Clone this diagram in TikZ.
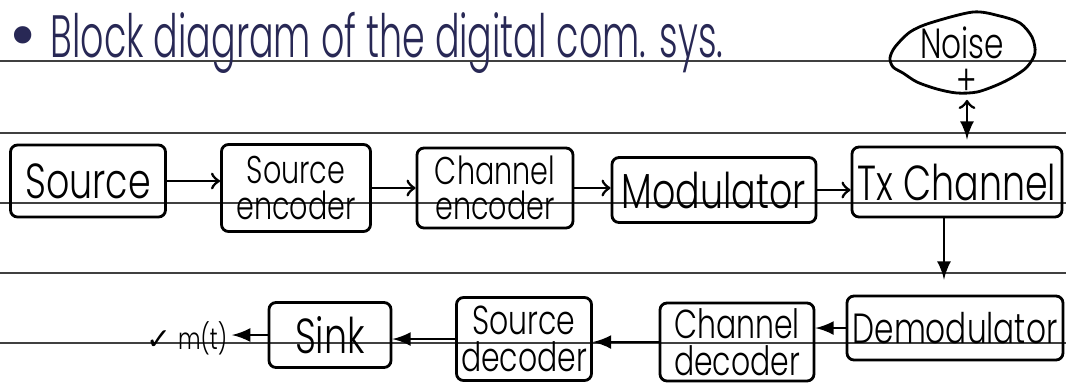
\documentclass[tikz,border=0pt]{standalone}
\usepackage{fontspec}
\setmainfont{Poppins Light}
\newfontfamily\hand[FakeStretch=0.74]{Poppins Light}
\newfontfamily\titlefont[FakeStretch=0.61]{Poppins Light}
\newfontfamily\symfont{DejaVu Sans}
\definecolor{ink}{RGB}{40,40,85}
\newcommand{\ruleline}[1]{\draw[rule] (0,#1) -- (1066,#1);}

\begin{document}
\begin{tikzpicture}[x=0.1mm,y=-0.1mm,>=latex,thick,
    rule/.style={thin,black!75},
    blk/.style={draw,rounded corners=2pt,inner sep=0pt,font=\hand\fontsize{14}{14}\selectfont},
    blk2/.style={blk,align=center,font=\hand\fontsize{11}{10}\selectfont}]
  \useasboundingbox (0,0) rectangle (1066,385);
  % ruled paper
  \ruleline{61}
  \ruleline{133}
  \ruleline{203}
  \ruleline{273}
  \ruleline{343}
  \node[anchor=base west,text=ink,inner sep=0pt,font=\titlefont\fontsize{17}{17}\selectfont] (title) at (4,57)
    {{\symfont\textbullet}\,Block diagram of the digital com. sys.};
  % noise
  \draw plot[smooth cycle] coordinates {(973,12) (930,23) (910,32) (895,47) (890,58) (893,67)
    (903,73) (917,82) (937,89) (957,93) (977,92) (997,85) (1013,77) (1027,67) (1035,53)
    (1032,37) (1020,23) (1000,16)};
  \node[font=\hand\fontsize{12}{12}\selectfont,inner sep=0pt] (noise) at (962,43) {Noise};
  \node[font=\hand\fontsize{12}{12}\selectfont,inner sep=0pt,text height=1.4ex,text depth=0pt] (plus) at (967,82) {+};
  % transmitter
  \node[blk,minimum width=15.5mm,minimum height=7.2mm] (src) at (88,181) {Source};
  \node[blk2,minimum width=14.9mm,minimum height=8.7mm] (senc) at (296,188) {Source\\encoder};
  \node[blk2,minimum width=15.6mm,minimum height=8.0mm] (cenc) at (495,188) {Channel\\encoder};
  \node[blk,minimum width=20.4mm,minimum height=6.5mm] (mod) at (714,190) {Modulator};
  \node[blk,minimum width=21.0mm,minimum height=7.0mm] (tx) at (957,182) {Tx Channel};
  % receiver
  \node[blk,font=\hand\fontsize{12}{12}\selectfont,minimum width=21.6mm,minimum height=6.4mm] (dm) at (955,328) {Demodulator};
  \node[blk2,font=\hand\fontsize{11.5}{10.5}\selectfont,minimum width=15.4mm,minimum height=7.8mm] (cdec) at (737,342) {Channel\\decoder};
  \node[blk2,font=\hand\fontsize{11.5}{10.5}\selectfont,minimum width=13.5mm,minimum height=8.3mm] (sdec) at (524,339) {Source\\decoder};
  \node[blk,minimum width=12.2mm,minimum height=6.5mm] (sink) at (330,335) {Sink};
  \node[font=\hand\fontsize{8.5}{8}\selectfont,inner sep=1pt] (mt) at (187,338) {{\symfont ✓} m(t)};
  % connections
  \draw[arrows=-to] (src.east) -- (src.east -| senc.west);
  \draw[arrows=-to] (senc.east) -- (senc.east -| cenc.west);
  \draw[arrows=-to] (cenc.east) -- (cenc.east -| mod.west);
  \draw[arrows=-to] (mod.east) -- (mod.east -| tx.west);
  \draw[arrows=to-latex,shorten <=0.3mm,shorten >=0.6mm] (plus.south) -- (plus.south |- tx.north);
  \draw[->,shorten >=1.5mm] ([xshift=-1.3mm]tx.south) -- ([xshift=-1.3mm]tx.south |- dm.north);
  \draw[->] (dm.west) -- (dm.west -| cdec.east);
  \draw[->] (cdec.west) -- (cdec.west -| sdec.east);
  \draw[->] (sdec.west) -- (sdec.west -| sink.east);
  \draw[->] (sink.west) -- (sink.west -| mt.east);
\end{tikzpicture}
\end{document}
